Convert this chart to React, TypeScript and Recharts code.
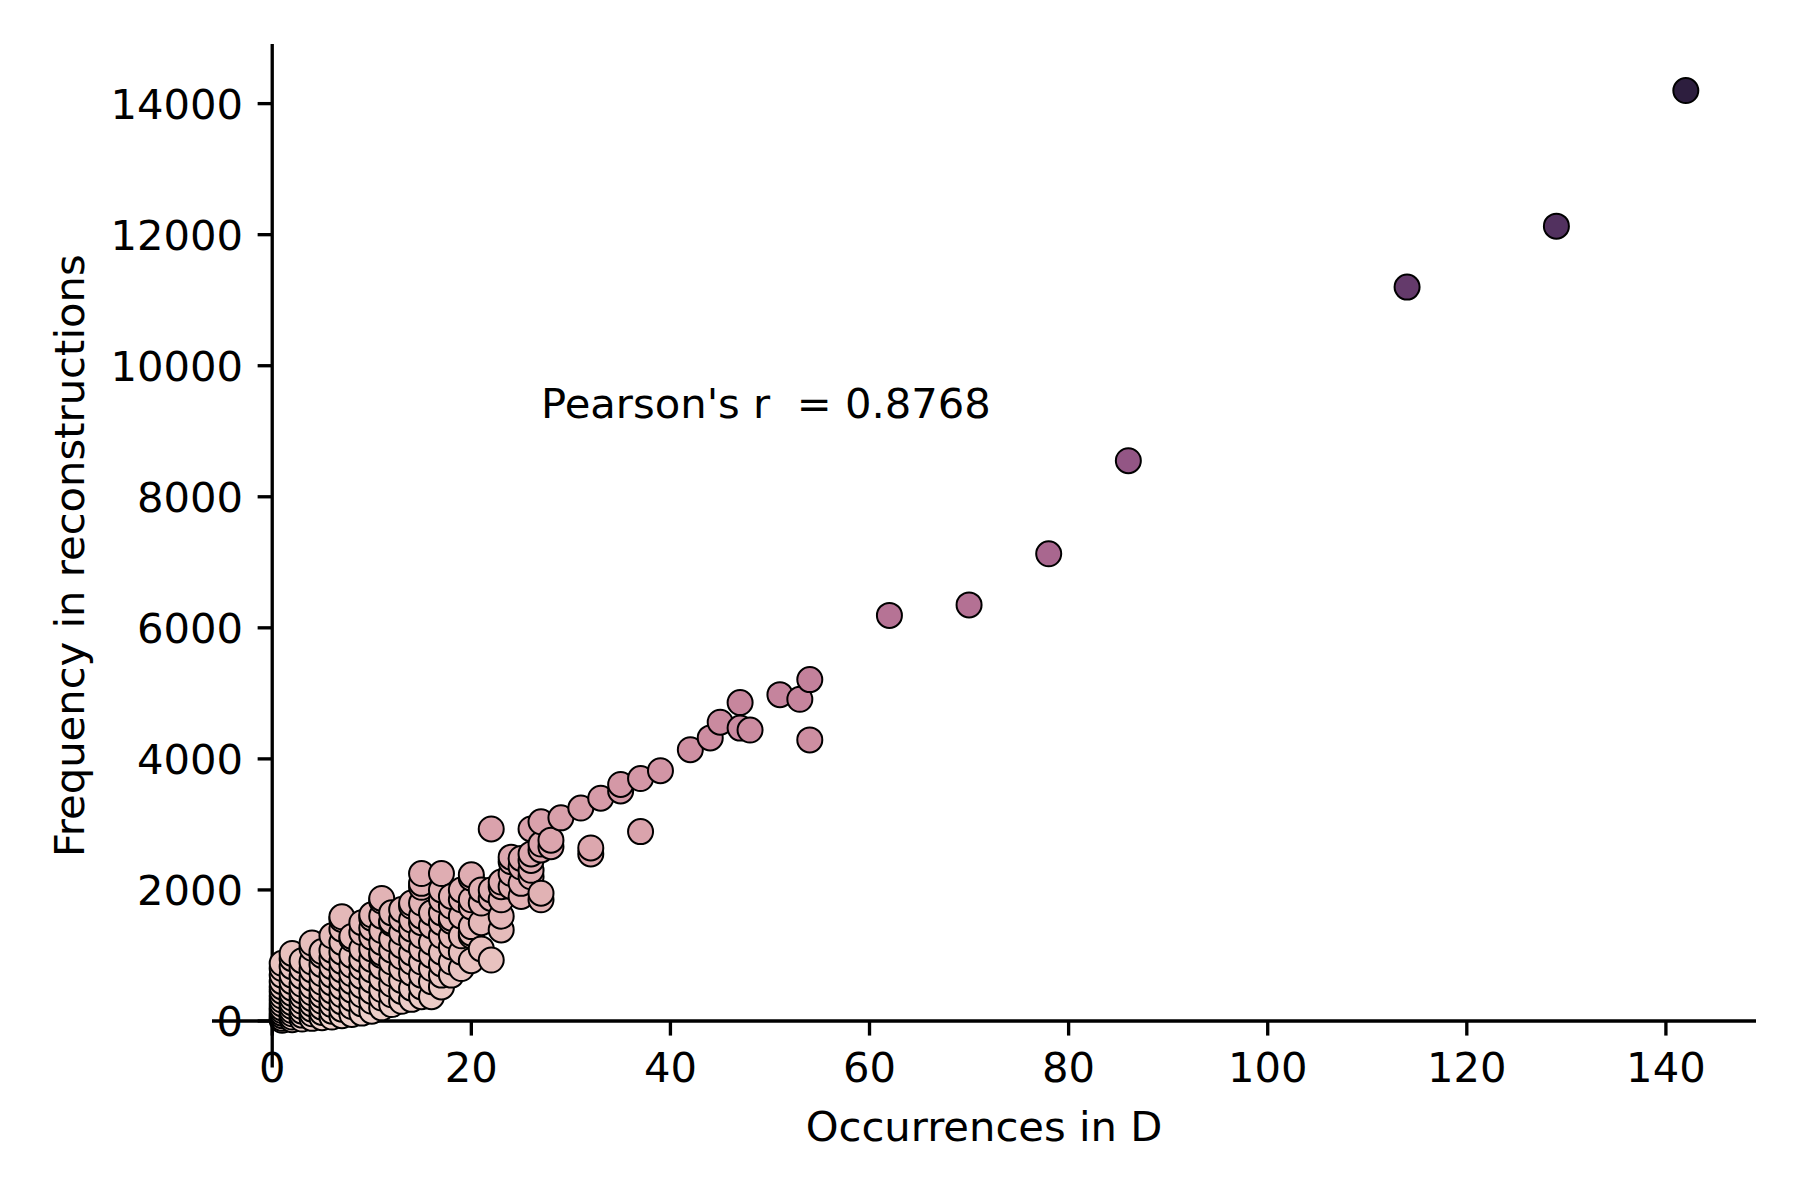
import React from "react";
import { ScatterChart, Scatter, XAxis, YAxis, ReferenceLine, ReferenceDot } from "recharts";

// [occurrences in D, frequency in reconstructions]
const nearOrigin: [number, number][] = [
  [1, 10], [1, 40], [1, 80], [1, 120], [1, 160], [1, 200], [1, 260], [1, 320], [1, 380], [1, 450], [1, 520], [1, 600], [1, 700], [1, 800], [1, 880],
  [2, 20], [2, 60], [2, 110], [2, 160], [2, 220], [2, 280], [2, 350], [2, 420], [2, 500], [2, 600], [2, 700], [2, 830], [2, 950], [2, 1030],
  [3, 30], [3, 90], [3, 150], [3, 220], [3, 300], [3, 380], [3, 460], [3, 560], [3, 680], [3, 800], [3, 920],
  [4, 40], [4, 110], [4, 180], [4, 260], [4, 340], [4, 430], [4, 530], [4, 650], [4, 780], [4, 900], [4, 1110], [4, 1190],
  [5, 50], [5, 130], [5, 210], [5, 300], [5, 390], [5, 480], [5, 590], [5, 720], [5, 860], [5, 1000], [5, 1060],
  [6, 60], [6, 150], [6, 250], [6, 350], [6, 460], [6, 580], [6, 700], [6, 830], [6, 960], [6, 1080], [6, 1300],
];

const lowColumns: [number, number][] = [
  [7, 80], [7, 180], [7, 290], [7, 400], [7, 520], [7, 650], [7, 780], [7, 910], [7, 1050], [7, 1200], [7, 1400], [7, 1550], [7, 1590],
  [8, 100], [8, 220], [8, 340], [8, 470], [8, 600], [8, 720], [8, 850], [8, 1000], [8, 1250], [8, 1290],
  [9, 120], [9, 260], [9, 400], [9, 540], [9, 680], [9, 820], [9, 940], [9, 1100], [9, 1350], [9, 1500],
  [10, 150], [10, 300], [10, 450], [10, 620], [10, 780], [10, 940], [10, 1100], [10, 1280], [10, 1420], [10, 1570], [10, 1620],
  [11, 200], [11, 350], [11, 480], [11, 650], [11, 830], [11, 1000], [11, 1040], [11, 1200], [11, 1380], [11, 1600], [11, 1830], [11, 1870],
  [12, 250], [12, 400], [12, 560], [12, 720], [12, 900], [12, 1080], [12, 1250], [12, 1490], [12, 1520], [12, 1650],
  [13, 300], [13, 450], [13, 620], [13, 800], [13, 980], [13, 1150], [13, 1350], [13, 1550], [13, 1700],
];

const midColumns: [number, number][] = [
  [14, 330], [14, 500], [14, 730], [14, 900], [14, 1040], [14, 1240], [14, 1400], [14, 1540], [14, 1750], [14, 1800],
  [15, 370], [15, 520], [15, 700], [15, 900], [15, 1100], [15, 1300], [15, 1500], [15, 1600], [15, 1800], [15, 2040], [15, 2100], [15, 2250],
  [16, 370], [16, 600], [16, 800], [16, 1000], [16, 1200], [16, 1450], [16, 1650],
  [17, 520], [17, 700], [17, 870], [17, 1050], [17, 1300], [17, 1500], [17, 1650], [17, 1850], [17, 2000], [17, 2250],
  [18, 700], [18, 900], [18, 1130], [18, 1300], [18, 1520], [18, 1570], [18, 1750], [18, 1900],
  [19, 800], [19, 1050], [19, 1300], [19, 1600], [19, 1850], [19, 2000],
  [20, 920], [20, 1300], [20, 1340], [20, 1440], [20, 1740], [20, 1850], [20, 2180], [20, 2230],
];

const highColumns: [number, number][] = [
  [21, 1100], [21, 1500], [21, 1800], [21, 2000],
  [22, 930], [22, 1870], [22, 2000], [22, 2930],
  [23, 1390], [23, 1600], [23, 1850], [23, 2050], [23, 2120],
  [24, 2050], [24, 2250], [24, 2430], [24, 2500],
  [25, 1900], [25, 2100], [25, 2350], [25, 2480],
  [26, 2200], [26, 2300], [26, 2450], [26, 2550], [26, 2930],
  [27, 1850], [27, 1950], [27, 2610], [27, 2700], [27, 3040],
  [28, 2660], [28, 2760],
];

const trendPoints: [number, number][] = [
  [29, 3100], [31, 3250], [32, 2550], [32, 2640], [33, 3400], [35, 3510], [35, 3610],
  [37, 2890], [37, 3700], [39, 3820], [42, 4140], [44, 4320], [45, 4560], [47, 4470],
  [47, 4860], [48, 4440], [51, 4980], [53, 4910], [54, 4290], [54, 5210],
];

const topPoints: [number, number][] = [
  [62, 6190], [70, 6350], [78, 7130], [86, 8550], [114, 11200], [129, 12130], [142, 14200],
];

const xTicks = [0, 20, 40, 60, 80, 100, 120, 140];
const yTicks = [0, 2000, 4000, 6000, 8000, 10000, 12000, 14000];

const pearsonLabel = "Pearson's r  = 0.8768";

const rows = [...nearOrigin, ...lowColumns, ...midColumns, ...highColumns, ...trendPoints, ...topPoints].map(
  ([x, y]) => ({ x, y })
);

const yMin = Math.min(...rows.map((r) => r.y));
const yMax = Math.max(...rows.map((r) => r.y));

// layout (pixels), matplotlib 6x4in @300dpi look
const PLOT_LEFT = 212;
const PLOT_TOP = 44;
const PLOT_RIGHT = 1756;
const PLOT_BOTTOM = 1067.5;
const X_DOMAIN: [number, number] = [-6.05, 149.05];
const Y_DOMAIN: [number, number] = [-710, 14910];
const FONT = 41.7;
const FAMILY = "DejaVu Sans";
const TICK_LEN = 14.6;
const TICK_PAD = 14.6;
const LINE_W = 3.33;

const plotW = PLOT_RIGHT - PLOT_LEFT;
const plotH = PLOT_BOTTOM - PLOT_TOP;
// spines sit at data zero
const X0_PX = PLOT_LEFT + ((0 - X_DOMAIN[0]) / (X_DOMAIN[1] - X_DOMAIN[0])) * plotW;
const Y0_PX = PLOT_TOP + ((Y_DOMAIN[1] - 0) / (Y_DOMAIN[1] - Y_DOMAIN[0])) * plotH;

// seaborn default sequential cubehelix (light .85 -> dark .15)
function cubehelix(t: number) {
  const v = 0.85 - 0.7 * t;
  const a = (0.8 * v * (1 - v)) / 2;
  const phi = 2 * Math.PI * (0.4 * v);
  const c = Math.cos(phi);
  const s = Math.sin(phi);
  const ch = [
    v + a * (-0.14861 * c + 1.78277 * s),
    v + a * (-0.29227 * c - 0.90649 * s),
    v + a * (1.97294 * c),
  ];
  return (
    "#" +
    ch
      .map((k) => Math.round(Math.min(1, Math.max(0, k)) * 255).toString(16).padStart(2, "0"))
      .join("")
  );
}

function Dot(props: any) {
  const { cx, cy, payload } = props;
  const t = (payload.y - yMin) / (yMax - yMin);
  return <circle cx={cx} cy={cy} r={12.5} fill={cubehelix(t)} stroke="#000" strokeWidth={2} />;
}

function XTick(props: any) {
  const { x, payload } = props;
  return (
    <g>
      <line x1={x} x2={x} y1={Y0_PX} y2={Y0_PX + TICK_LEN} stroke="#000" strokeWidth={LINE_W} />
      <text x={x} y={Y0_PX + TICK_LEN + TICK_PAD + 31.7} textAnchor="middle" fontSize={FONT} fontFamily={FAMILY} fill="#000">
        {payload.value}
      </text>
    </g>
  );
}

function YTick(props: any) {
  const { y, payload } = props;
  return (
    <g>
      <line x1={X0_PX - TICK_LEN} x2={X0_PX} y1={y} y2={y} stroke="#000" strokeWidth={LINE_W} />
      <text x={X0_PX - TICK_LEN - TICK_PAD} y={y + 15.2} textAnchor="end" fontSize={FONT} fontFamily={FAMILY} fill="#000">
        {payload.value}
      </text>
    </g>
  );
}

export default function App() {
  return (
    <div style={{ position: "absolute", left: 0, top: 0, width: 1800, height: 1200, background: "#fff" }}>
      <ScatterChart
        width={1800}
        height={1200}
        margin={{ top: PLOT_TOP, right: 1800 - PLOT_RIGHT, bottom: 1200 - PLOT_BOTTOM - 1, left: PLOT_LEFT - 1 }}
      >
        <XAxis
          type="number"
          dataKey="x"
          domain={X_DOMAIN}
          ticks={xTicks}
          interval={0}
          allowDataOverflow
          height={1}
          axisLine={false}
          tickLine={false}
          tickSize={0}
          tickMargin={0}
          tick={<XTick />}
          label={{
            value: "Occurrences in D",
            content: () => (
              <text x={(PLOT_LEFT + PLOT_RIGHT) / 2} y={1141} textAnchor="middle" fontSize={FONT} fontFamily={FAMILY} fill="#000">
                Occurrences in D
              </text>
            ),
          }}
        />
        <YAxis
          type="number"
          dataKey="y"
          domain={Y_DOMAIN}
          ticks={yTicks}
          interval={0}
          allowDataOverflow
          width={1}
          axisLine={false}
          tickLine={false}
          tickSize={0}
          tickMargin={0}
          tick={<YTick />}
          label={{
            value: "Frequency in reconstructions",
            content: () => (
              <text
                transform={`translate(83.7, ${(PLOT_TOP + PLOT_BOTTOM) / 2}) rotate(-90)`}
                textAnchor="middle"
                fontSize={FONT}
                fontFamily={FAMILY}
                fill="#000"
              >
                Frequency in reconstructions
              </text>
            ),
          }}
        />
        <Scatter data={rows} shape={<Dot />} isAnimationActive={false} />
        <ReferenceLine x={0} stroke="#000" strokeWidth={LINE_W} />
        <ReferenceLine y={0} stroke="#000" strokeWidth={LINE_W} />
        <ReferenceDot
          x={27}
          y={9200}
          r={0}
          fill="none"
          stroke="none"
          label={{
            value: pearsonLabel,
            content: (p: any) => (
              <text x={p.viewBox.x} y={p.viewBox.y} textAnchor="start" fontSize={FONT} fontFamily={FAMILY} fill="#000" style={{ whiteSpace: "pre" }}>
                {pearsonLabel}
              </text>
            ),
          }}
        />
      </ScatterChart>
    </div>
  );
}
